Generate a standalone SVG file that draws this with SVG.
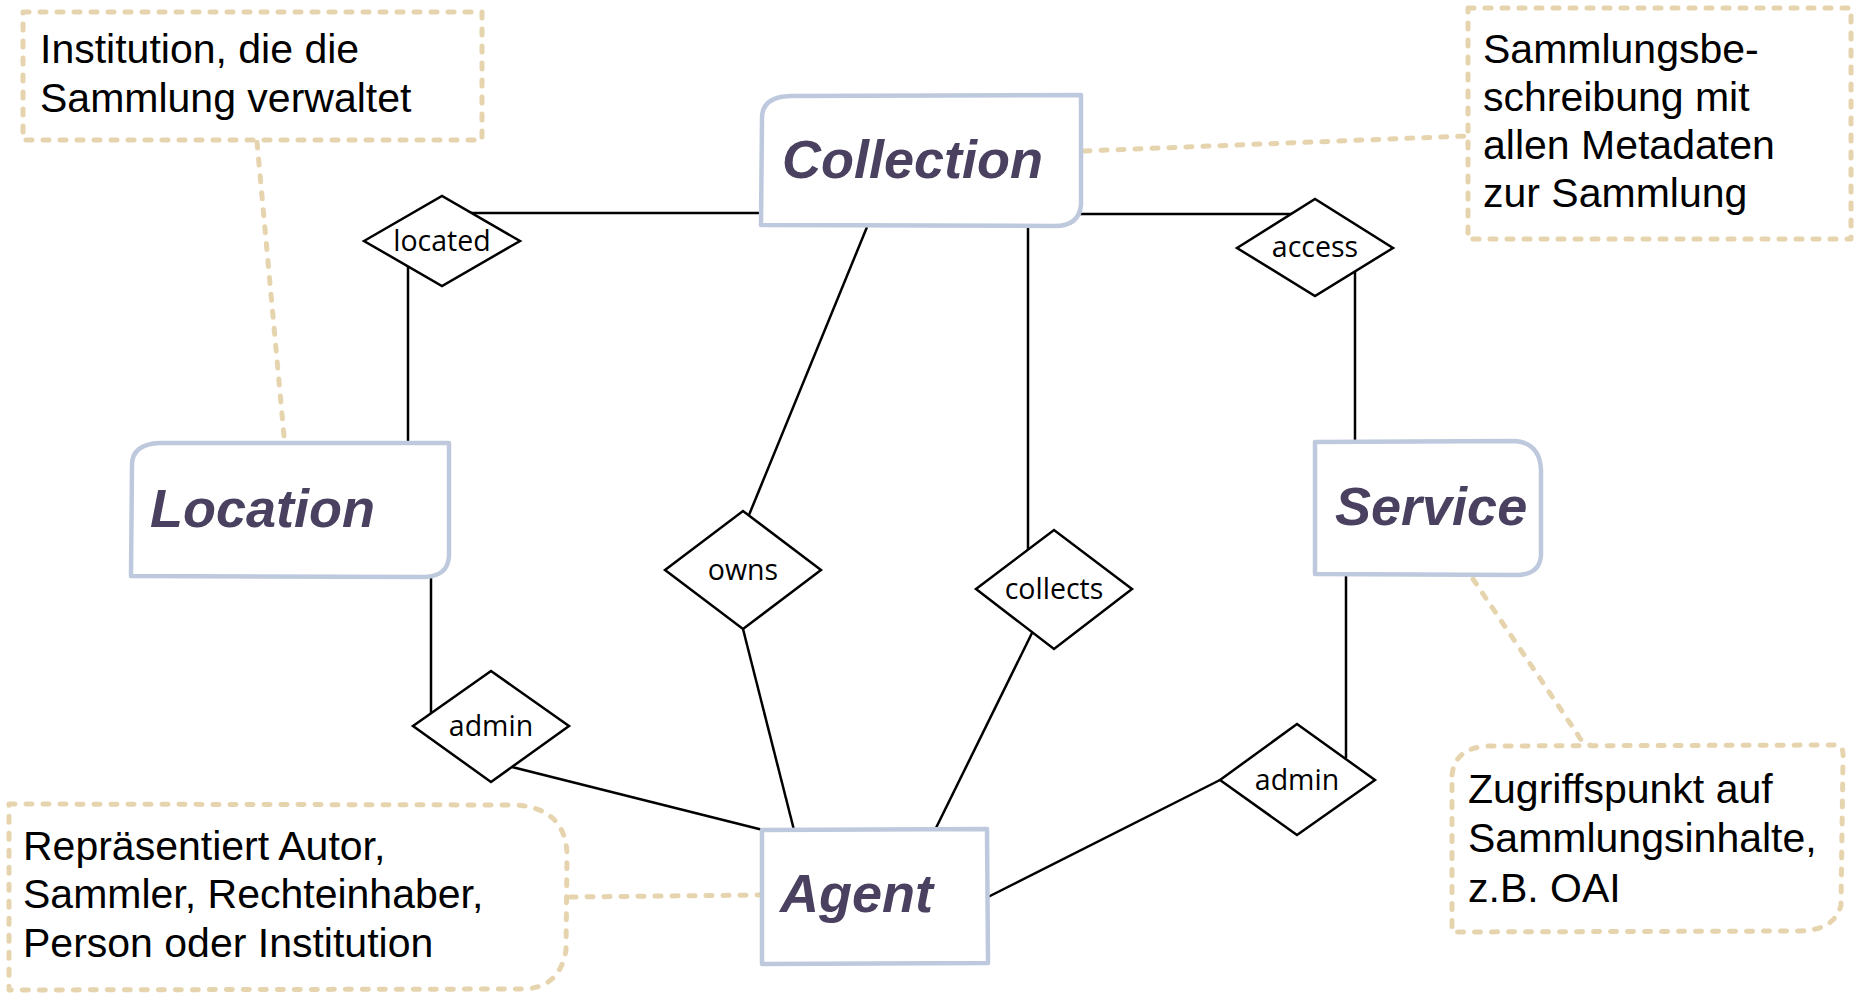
<svg xmlns="http://www.w3.org/2000/svg" width="1855" height="994" viewBox="0 0 1855 994">
<style>
.ent{fill:#fff;stroke:#bec9de;stroke-width:4.5;stroke-linejoin:round}
.entt{font-family:"Liberation Sans",Arial,sans-serif;font-weight:bold;font-style:italic;font-size:54px;fill:#4a4160}
.rel{fill:#fff;stroke:#000;stroke-width:2.5}
.relt{font-family:"Open Sans","Noto Sans",sans-serif;font-size:28.5px;fill:#000;text-anchor:middle}
.con{stroke:#000;stroke-width:2.5;fill:none}
.note{fill:#fff;stroke:#e6d4ae;stroke-width:5;stroke-dasharray:6 11;stroke-linecap:round;stroke-linejoin:round}
.notel{fill:none;stroke:#e6d4ae;stroke-width:5;stroke-dasharray:6 11;stroke-linecap:round}
.nott{font-family:"Liberation Sans",Arial,sans-serif;font-size:41px;fill:#000}
</style>
<g id="connectors">
<line class="con" x1="470" y1="213" x2="763" y2="213"/>
<line class="con" x1="408" y1="266" x2="408" y2="443"/>
<line class="con" x1="1079" y1="214" x2="1292" y2="214"/>
<line class="con" x1="1355" y1="271" x2="1355" y2="441"/>
<line class="con" x1="867" y1="227" x2="749" y2="515"/>
<line class="con" x1="743" y1="629" x2="794" y2="830"/>
<line class="con" x1="1028" y1="227" x2="1028" y2="550"/>
<line class="con" x1="1032" y1="633" x2="935" y2="830"/>
<line class="con" x1="431" y1="577" x2="431" y2="713"/>
<line class="con" x1="512" y1="767" x2="763" y2="830"/>
<line class="con" x1="1346" y1="575" x2="1346" y2="758"/>
<line class="con" x1="1220" y1="780" x2="988" y2="897"/>
<path class="notel" d="M257 142 L284 436"/>
<path class="notel" d="M1084 151 L1467 136"/>
<path class="notel" d="M1473 579 L1578 735 Q1582 743 1590 745"/>
<path class="notel" d="M570 897 L760 895"/>
</g>
<g id="note-location">
<rect class="note" x="23" y="12" width="459" height="128"/>
<text class="nott" x="40" y="63">Institution, die die</text>
<text class="nott" x="40" y="112">Sammlung verwaltet</text>
</g>
<g id="note-collection">
<path class="note" d="M1468 8 L1851 8 L1851 239 L1468 239 Z"/>
<text class="nott" x="1483" y="63">Sammlungsbe-</text>
<text class="nott" x="1483" y="111">schreibung mit</text>
<text class="nott" x="1483" y="159">allen Metadaten</text>
<text class="nott" x="1483" y="207">zur Sammlung</text>
</g>
<g id="note-service">
<path class="note" d="M1452 775 Q1455 747 1490 746 L1838 745 Q1844 746 1843 760 L1841 905 Q1835 930 1800 931 L1452 932 Z"/>
<text class="nott" x="1468" y="803">Zugriffspunkt auf</text>
<text class="nott" x="1468" y="852">Sammlungsinhalte,</text>
<text class="nott" x="1468" y="902">z.B. OAI</text>
</g>
<g id="note-agent">
<path class="note" d="M9 804 L515 805 Q566 808 567 855 L566 950 Q560 987 525 989 L9 990 Z"/>
<text class="nott" x="23" y="860">Repräsentiert Autor,</text>
<text class="nott" x="23" y="908">Sammler, Rechteinhaber,</text>
<text class="nott" x="23" y="957">Person oder Institution</text>
</g>
<g id="entity-collection">
<path class="ent" d="M762 118 Q762 97 790 96 L1081 95 L1081 205 Q1079 226 1055 226 L761 225 Z"/>
<text class="entt" x="782" y="178">Collection</text>
</g>
<g id="entity-location">
<path class="ent" d="M132 465 Q132 444 160 443 L449 443 L449 556 Q448 576 425 577 L131 576 Z"/>
<text class="entt" x="150" y="527">Location</text>
</g>
<g id="entity-service">
<path class="ent" d="M1315 442 L1515 441 Q1540 443 1541 470 L1541 555 Q1540 574 1518 575 L1315 574 Z"/>
<text class="entt" x="1335" y="525">Service</text>
</g>
<g id="entity-agent">
<path class="ent" d="M762 830 L987 829 L988 963 L762 964 Z"/>
<text class="entt" x="780" y="912">Agent</text>
</g>
<g id="rel-located">
<polygon class="rel" points="364,241 442,196 520,241 442,286"/>
<text class="relt" x="442" y="251">located</text>
</g>
<g id="rel-access">
<polygon class="rel" points="1237,248 1315,199 1393,248 1315,296"/>
<text class="relt" x="1315" y="257">access</text>
</g>
<g id="rel-owns">
<polygon class="rel" points="665,570 743,511 821,570 743,629"/>
<text class="relt" x="743" y="580">owns</text>
</g>
<g id="rel-collects">
<polygon class="rel" points="976,589 1054,530 1132,589 1054,649"/>
<text class="relt" x="1054" y="599">collects</text>
</g>
<g id="rel-admin-location">
<polygon class="rel" points="413,726 491,671 569,726 491,782"/>
<text class="relt" x="491" y="736">admin</text>
</g>
<g id="rel-admin-service">
<polygon class="rel" points="1220,780 1297,724 1375,780 1297,835"/>
<text class="relt" x="1297" y="790">admin</text>
</g>
</svg>
